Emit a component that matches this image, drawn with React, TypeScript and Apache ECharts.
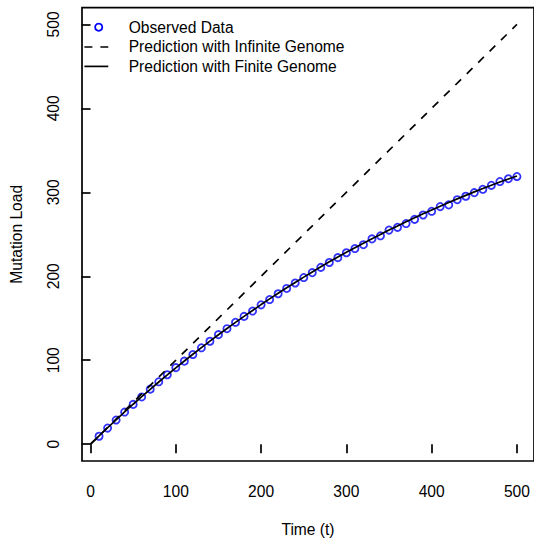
import React, { useEffect, useRef } from "react";
import * as echarts from "echarts";

const timePoints = [10, 20, 30, 40, 50, 60, 70, 80, 90, 100, 110, 120, 130, 140, 150, 160, 170, 180, 190, 200, 210, 220, 230, 240, 250, 260, 270, 280, 290, 300, 310, 320, 330, 340, 350, 360, 370, 380, 390, 400, 410, 420, 430, 440, 450, 460, 470, 480, 490, 500];
const observedLoad = [9.5, 19.2, 28.8, 38.3, 47.4, 56.3, 65.6, 74.3, 82.7, 91.2, 98.9, 106.8, 114.8, 122.6, 130.5, 137.6, 145.2, 152.2, 158.6, 166.0, 172.3, 179.2, 185.5, 192.0, 198.5, 204.3, 210.6, 216.4, 222.2, 228.0, 233.0, 237.6, 244.5, 248.2, 255.0, 258.3, 262.8, 267.8, 273.0, 277.4, 283.0, 285.0, 291.2, 295.3, 299.6, 303.6, 308.3, 312.8, 316.2, 318.8];

const curveTime = [0, 10, 20, 30, 40, 50, 60, 70, 80, 90, 100, 110, 120, 130, 140, 150, 160, 170, 180, 190, 200, 210, 220, 230, 240, 250, 260, 270, 280, 290, 300, 310, 320, 330, 340, 350, 360, 370, 380, 390, 400, 410, 420, 430, 440, 450, 460, 470, 480, 490, 500];
const finiteLoad = [0, 9.9, 19.6, 29.1, 38.5, 47.6, 56.6, 65.4, 74.1, 82.6, 90.9, 99.1, 107.1, 115.0, 122.7, 130.3, 137.8, 145.1, 152.3, 159.3, 166.3, 173.1, 179.7, 186.3, 192.7, 199.0, 205.2, 211.3, 217.2, 223.0, 228.5, 234.0, 239.4, 244.7, 249.9, 255.0, 260.0, 264.9, 269.7, 274.4, 279.0, 283.5, 287.9, 292.2, 296.4, 300.5, 304.5, 308.4, 312.2, 315.9, 319.5];

const infiniteTime = [0, 500];
const infiniteLoad = [0, 500];

const tickValues = [0, 100, 200, 300, 400, 500];
const legendLabels = ["Observed Data", "Prediction with Infinite Genome", "Prediction with Finite Genome"];

const FONT = "'Liberation Sans', Arial, Helvetica, sans-serif";
const FS = 15.6;
const LW = 1.7;

export default function App() {
  const ref = useRef<HTMLDivElement>(null);
  useEffect(() => {
    if (!ref.current) return;
    const chart = echarts.init(ref.current, null, { renderer: "svg" });
    const axisCommon = {
      type: "value" as const,
      splitLine: { show: false },
      axisLine: { show: false },
      axisTick: { show: true, inside: false, length: 9, customValues: tickValues, lineStyle: { color: "#000", width: LW } },
      nameLocation: "middle" as const,
      nameTextStyle: { color: "#000", fontSize: FS, fontFamily: FONT },
    };
    chart.setOption({
      animation: false,
      backgroundColor: "#fff",
      grid: {
        left: 80.6,
        top: 7.6,
        width: 457.8,
        height: 456.1,
        show: true,
        borderColor: "#000",
        borderWidth: LW,
        backgroundColor: "transparent",
      },
      xAxis: {
        ...axisCommon,
        min: -10,
        max: 520,
        name: "Time (t)",
        nameGap: 60,
        axisLabel: { customValues: tickValues, margin: 22, color: "#000", fontSize: FS, fontFamily: FONT },
      },
      yAxis: {
        ...axisCommon,
        min: -20,
        max: 520,
        name: "Mutation Load",
        nameGap: 58,
        axisLabel: { customValues: tickValues, margin: 21, rotate: 90, color: "#000", fontSize: FS, fontFamily: FONT },
      },
      series: [
        {
          name: legendLabels[0],
          type: "scatter",
          data: timePoints.map((t, i) => [t, observedLoad[i]]),
          symbol: "circle",
          symbolSize: 7.2,
          itemStyle: { color: "rgba(0,0,0,0)", borderColor: "#0000ff", borderWidth: 1.8 },
          z: 2,
        },
        {
          name: legendLabels[1],
          type: "line",
          data: infiniteTime.map((t, i) => [t, infiniteLoad[i]]),
          showSymbol: false,
          symbol: "none",
          lineStyle: { color: "#000", width: LW, type: [8, 8] },
          z: 3,
        },
        {
          name: legendLabels[2],
          type: "line",
          data: curveTime.map((t, i) => [t, finiteLoad[i]]),
          showSymbol: false,
          symbol: "none",
          smooth: false,
          lineStyle: { color: "#000", width: LW },
          z: 3,
        },
      ],
      graphic: [
        {
          type: "circle",
          shape: { cx: 98.7, cy: 27.2, r: 3.6 },
          style: { fill: "none", stroke: "#0000ff", lineWidth: 1.8 },
        },
        {
          type: "line",
          shape: { x1: 84.4, y1: 47, x2: 108.3, y2: 47 },
          style: { stroke: "#000", lineWidth: LW, lineDash: [8, 8] },
        },
        {
          type: "line",
          shape: { x1: 84.4, y1: 66.4, x2: 108.3, y2: 66.4 },
          style: { stroke: "#000", lineWidth: LW },
        },
        ...legendLabels.map((label, i) => ({
          type: "text",
          x: 128.7,
          y: 27.2 + i * 19.6,
          style: {
            text: label,
            fill: "#000",
            fontSize: FS,
            fontFamily: FONT,
            textAlign: "left",
            textVerticalAlign: "middle",
          },
        })),
      ],
    });
    return () => chart.dispose();
  }, []);
  return (
    <div
      ref={ref}
      style={{ position: "fixed", left: 0, top: 0, width: 534, height: 542, background: "#fff" }}
    />
  );
}
